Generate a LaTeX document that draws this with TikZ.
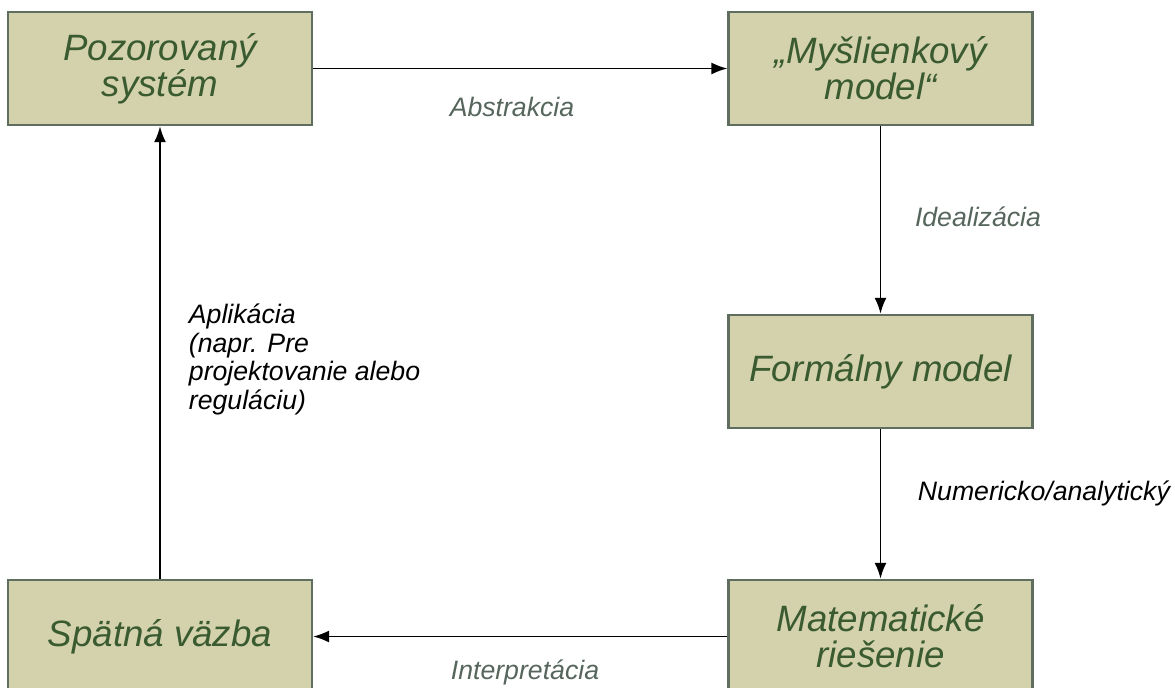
\documentclass[tikz,border=0pt]{standalone}
\usepackage{fontspec}
\setmainfont{Liberation Sans}
\usetikzlibrary{arrows.meta}
\definecolor{boxfill}{HTML}{D3D2AC}
\definecolor{boxline}{HTML}{5F6E5E}
\definecolor{boxtext}{HTML}{3A5A30}
\definecolor{lblgray}{HTML}{56665C}
\begin{document}
\begin{tikzpicture}[x=0.75pt, y=-0.75pt, >={Latex[length=12pt, width=9pt]}, line width=1.4pt,
		box/.style={draw=boxline, fill=boxfill, line width=1.6pt, minimum width=228pt, minimum height=85pt,
			align=center, text=boxtext, font=\itshape\fontsize{27.5}{27}\selectfont},
		lbl/.style={text=lblgray, font=\itshape\fontsize{20}{21.4}\selectfont},
		note/.style={text=black, align=left, inner sep=0pt, font=\itshape\fontsize{20}{21.4}\selectfont}]
	% 1. plocha obrazka
	\useasboundingbox (0,0) rectangle (1175,687);
	\clip (0,0) rectangle (1175,687);
	
	% 2. bloky
	\node[box] (poz) at (160,68.5) {Pozorovaný\\systém};
	\node[box] (mys) at (880.5,68.5) {„Myšlienkový\\model“};
	\node[box] (form) at (880.5,371.5) {Formálny model};
	\node[box] (mat) at (880.5,636.5) {Matematické\\riešenie};
	\node[box] (spat) at (160,636.5) {Spätná väzba};
	
	% 3. sipky
	\draw[->] (poz) -- (mys);
	\draw[->] (mys) -- (form);
	\draw[->] (form) -- (mat);
	\draw[->] (mat) -- (spat);
	\draw[->] (spat) -- (poz);
	
	% 4. popisy
	\node[lbl] (abs) at (512,107) {Abstrakcia};
	\node[lbl] (ideal) at (978,217) {Idealizácia};
	\node[lbl] (interp) at (525,672) {Interpretácia};
	\node[note, anchor=west] (num) at (917,493) {Numericko/analytický};
	\node[note, anchor=north west] (apl) at (188,303) {Aplikácia\\(napr. Pre\\projektovanie alebo\\reguláciu)};
\end{tikzpicture}
\end{document}
